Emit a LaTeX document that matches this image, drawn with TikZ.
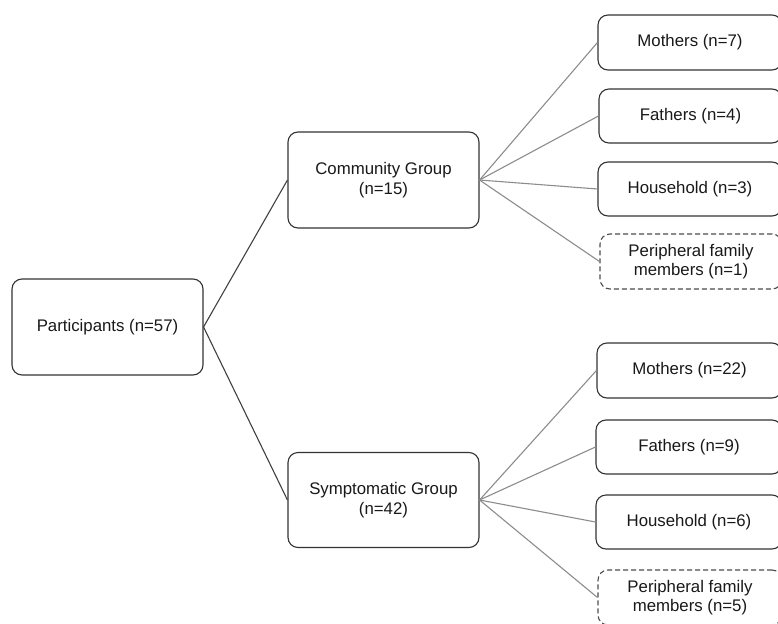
\documentclass[tikz,border=0pt]{standalone}
\usepackage{fontspec}
\setmainfont{Liberation Sans}
\begin{document}
\begin{tikzpicture}[x=1pt,y=-1pt,
  box/.style={draw=black!80, line width=1.1pt, rounded corners=10pt, fill=white,
    align=center, inner sep=2pt, font=\fontsize{16.8}{19.5}\selectfont, text=black!90},
  dbox/.style={box, dash pattern=on 5pt off 3pt, draw=black!70},
  main/.style={draw=black!75, line width=1.1pt},
  sub/.style={draw=black!45, line width=1.1pt}]
\useasboundingbox (0,0) rectangle (778,623);
\clip (0,0) rectangle (778,623);
\node[box, minimum width=191pt, minimum height=96pt] (part) at (107.5,327) {Participants (n=57)};
\node[box, minimum width=191pt, minimum height=96pt] (comm) at (383.5,180) {Community Group\\(n=15)};
\node[box, minimum width=191pt, minimum height=95pt] (symp) at (383.5,500) {Symptomatic Group\\(n=42)};
\node[box, minimum width=184pt, minimum height=55pt] (m7) at (690,42.5) {Mothers (n=7)};
\node[box, minimum width=183pt, minimum height=54pt] (f4) at (690.5,116) {Fathers (n=4)};
\node[box, minimum width=184pt, minimum height=54pt] (h3) at (690,189) {Household (n=3)};
\node[dbox, minimum width=182pt, minimum height=55pt] (p1) at (691,261.5) {Peripheral family\\members (n=1)};
\node[box, minimum width=185pt, minimum height=55pt] (m22) at (689.5,370.5) {Mothers (n=22)};
\node[box, minimum width=186pt, minimum height=54pt] (f9) at (689,447) {Fathers (n=9)};
\node[box, minimum width=186pt, minimum height=54pt] (h6) at (689,522) {Household (n=6)};
\node[dbox, minimum width=184pt, minimum height=55pt] (p5) at (690,597.5) {Peripheral family\\members (n=5)};
\draw[main] (comm.west) -- (part.east) -- (symp.west);
\foreach \c in {m7,f4,h3,p1} \draw[sub] (comm.east) -- (\c.west);
\foreach \c in {m22,f9,h6,p5} \draw[sub] (symp.east) -- (\c.west);
\end{tikzpicture}
\end{document}
